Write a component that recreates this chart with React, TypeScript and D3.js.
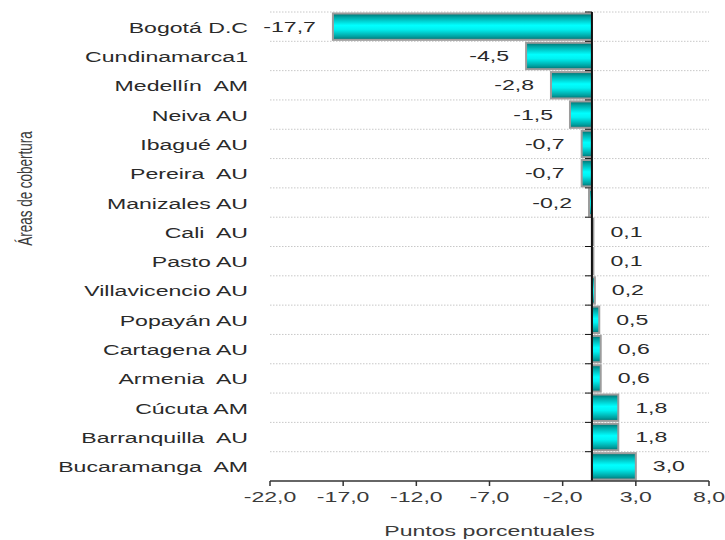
import React from "react";
import * as d3 from "d3";

const categories = [
  "Bogotá D.C",
  "Cundinamarca1",
  "Medellín  AM",
  "Neiva AU",
  "Ibagué AU",
  "Pereira  AU",
  "Manizales AU",
  "Cali  AU",
  "Pasto AU",
  "Villavicencio AU",
  "Popayán AU",
  "Cartagena AU",
  "Armenia  AU",
  "Cúcuta AM",
  "Barranquilla  AU",
  "Bucaramanga  AM",
];
const values = [-17.7, -4.5, -2.8, -1.5, -0.7, -0.7, -0.2, 0.1, 0.1, 0.2, 0.5, 0.6, 0.6, 1.8, 1.8, 3.0];
const xTicks = [-22, -17, -12, -7, -2, 3, 8];
const xTitle = "Puntos porcentuales";
const yTitle = "Áreas de cobertura";

const W = 725;
const H = 540;
const left = 270;
const right = 709;
const top = 12;
const bottom = 481;
const SX = 1.65;
const FONT = "Liberation Sans, Arial, sans-serif";

const fmt = (v: number) => v.toFixed(1).replace(".", ",");

export default function App() {
  const x = d3.scaleLinear().domain([-22, 8]).range([left, right]);
  const y = d3
    .scaleBand<string>()
    .domain(categories)
    .range([top, bottom])
    .paddingInner(0.1)
    .paddingOuter(0.05);
  const step = y.step();
  const x0 = x(0);

  return (
    <svg
      width={W}
      height={H}
      style={{ position: "absolute", left: 0, top: 0, background: "#fff" }}
      fontFamily={FONT}
    >
      <defs>
        <linearGradient id="barGrad" x1="0" y1="0" x2="0" y2="1">
          <stop offset="0%" stopColor="#006e6e" />
          <stop offset="15%" stopColor="#00a8a8" />
          <stop offset="45%" stopColor="#00ffff" />
          <stop offset="60%" stopColor="#00f2f2" />
          <stop offset="88%" stopColor="#00a0a0" />
          <stop offset="100%" stopColor="#007070" />
        </linearGradient>
      </defs>

      {/* gridlines */}
      {categories.map((c, i) => {
        const yy = top + i * step;
        return (
          <line
            key={"g" + i}
            x1={left}
            x2={right}
            y1={yy}
            y2={yy}
            stroke="#c8c8c8"
            strokeWidth={1}
            strokeDasharray="1.5,1.5"
          />
        );
      })}

      {/* bars */}
      {categories.map((c, i) => {
        const v = values[i];
        const x1 = Math.min(x(v), x0);
        const w = Math.abs(x(v) - x0);
        return (
          <rect
            key={"b" + i}
            x={x1}
            y={y(c)!}
            width={w}
            height={y.bandwidth()}
            fill="url(#barGrad)"
            stroke="#9c9c9c"
            strokeWidth={2}
          />
        );
      })}

      {/* zero axis with category ticks */}
      <line x1={x0} x2={x0} y1={top} y2={bottom} stroke="#111" strokeWidth={2} />
      {categories.map((c, i) => {
        const yy = top + i * step;
        return <line key={"t" + i} x1={x0 - 7} x2={x0} y1={yy} y2={yy} stroke="#111" strokeWidth={1} />;
      })}

      {/* x axis */}
      <line x1={left} x2={right} y1={bottom} y2={bottom} stroke="#333" strokeWidth={1.5} />
      {xTicks.map((t) => (
        <g key={"xt" + t}>
          <line x1={x(t)} x2={x(t)} y1={bottom} y2={bottom + 5} stroke="#333" strokeWidth={1.5} />
          <text
            transform={`translate(${x(t)},${502}) scale(${SX},1)`}
            textAnchor="middle"
            fontSize={14}
            fill="#3a3a3a"
          >
            {fmt(t)}
          </text>
        </g>
      ))}

      {/* category labels */}
      {categories.map((c) => (
        <text
          key={"cl" + c}
          transform={`translate(248,${y(c)! + y.bandwidth() / 2 + 6})scale(${SX},1)`}
          textAnchor="end"
          fontSize={14}
          fill="#2a2a2a"
          style={{ whiteSpace: "pre" }}
        >
          {c}
        </text>
      ))}

      {/* value labels */}
      {categories.map((c, i) => {
        const v = values[i];
        const xe = x(v);
        const neg = v < 0;
        const lx = neg ? xe - 17 : xe + 17;
        return (
          <text
            key={"vl" + i}
            transform={`translate(${lx},${y(c)! + y.bandwidth() / 2 + 5}) scale(${SX},1)`}
            textAnchor={neg ? "end" : "start"}
            fontSize={14}
            fill="#2a2a2a"
          >
            {fmt(v)}
          </text>
        );
      })}

      {/* axis titles */}
      <text
        transform={`translate(${(left + right) / 2},536) scale(${SX},1)`}
        textAnchor="middle"
        fontSize={14}
        fill="#3a3a3a"
      >
        {xTitle}
      </text>
      <text
        transform={`translate(32,${(top + bottom) / 2 - 58}) rotate(-90) scale(1,1.5)`}
        textAnchor="middle"
        fontSize={13.5}
        fill="#3a3a3a"
      >
        {yTitle}
      </text>
    </svg>
  );
}
